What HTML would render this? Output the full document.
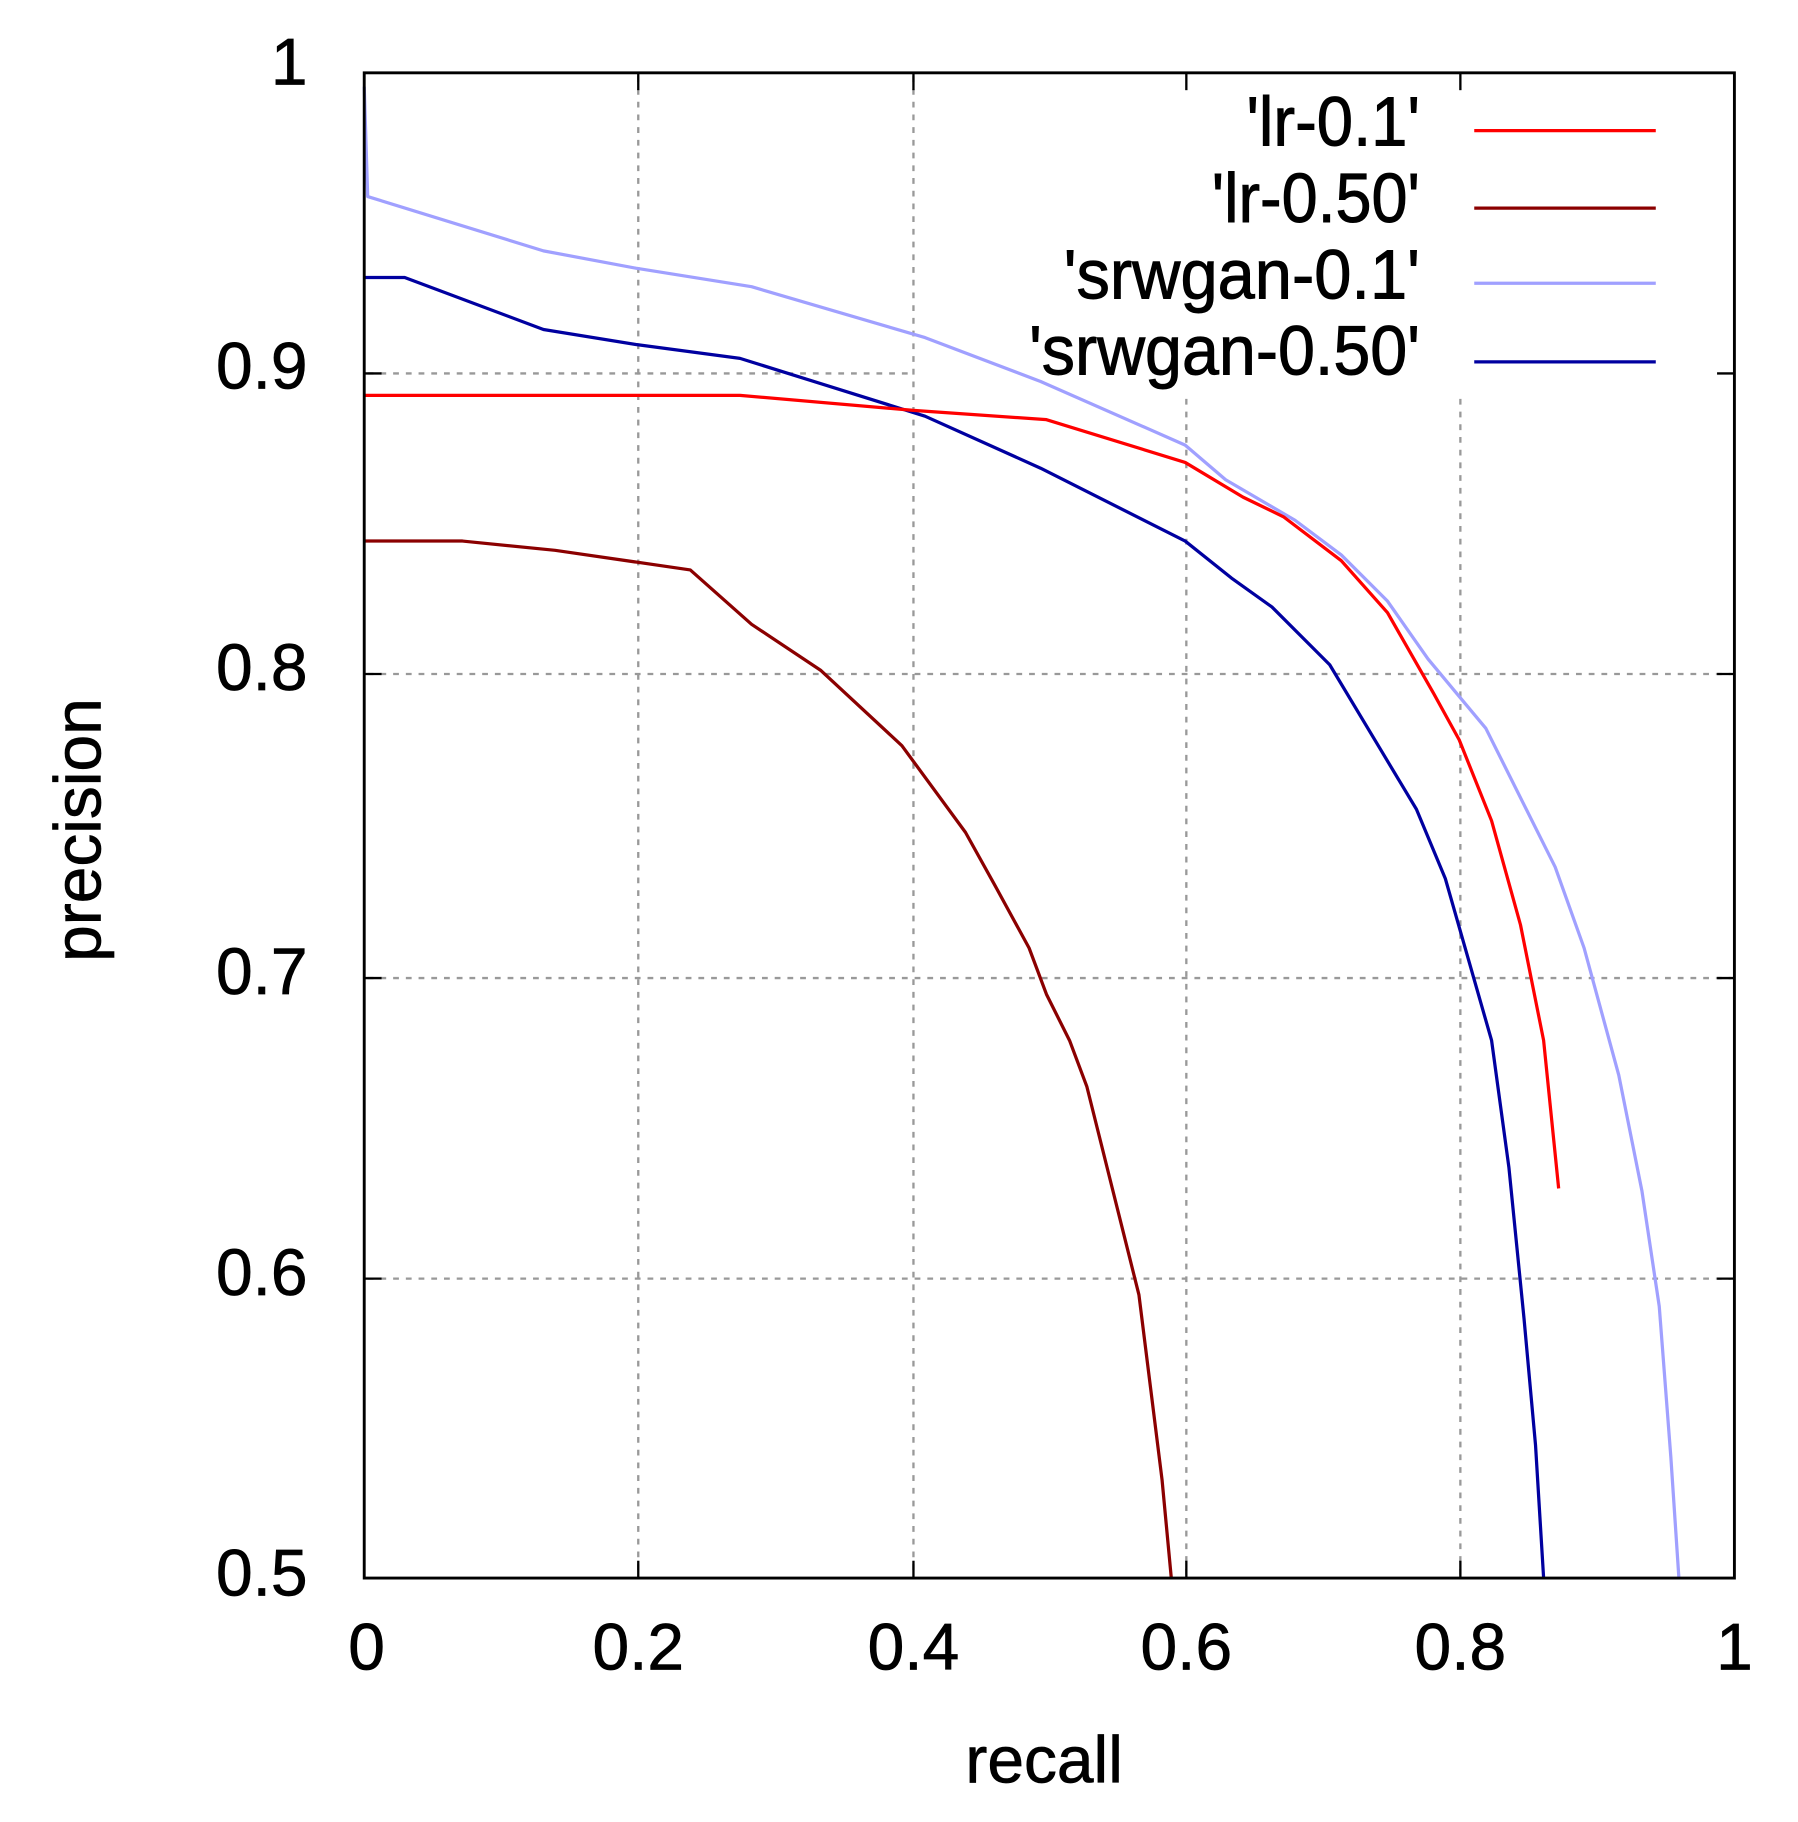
<!DOCTYPE html>
<html><head><style>html,body{margin:0;padding:0;background:#fff}svg{display:block}</style></head>
<body>
<svg width="1798" height="1822" viewBox="0 0 1555 1576" preserveAspectRatio="none" xmlns="http://www.w3.org/2000/svg" font-family="Liberation Sans, sans-serif">
<rect width="1555" height="1576" fill="#fff"/>
<g stroke="#999" stroke-width="2" stroke-dasharray="5,6" fill="none">
<line x1="552" y1="66" x2="552" y2="1362"/>
<line x1="790" y1="66" x2="790" y2="1362"/>
<line x1="1026" y1="345" x2="1026" y2="1362"/>
<line x1="1263" y1="345" x2="1263" y2="1362"/>
<line x1="318" y1="323" x2="790" y2="323"/>
<line x1="318" y1="583" x2="1497" y2="583"/>
<line x1="318" y1="846" x2="1497" y2="846"/>
<line x1="318" y1="1106" x2="1497" y2="1106"/>
</g>
<g stroke="#000" stroke-width="2">
<line x1="552" y1="63" x2="552" y2="78"/><line x1="790" y1="63" x2="790" y2="78"/><line x1="1026" y1="63" x2="1026" y2="78"/><line x1="1263" y1="63" x2="1263" y2="78"/>
<line x1="552" y1="1365" x2="552" y2="1350"/><line x1="790" y1="1365" x2="790" y2="1350"/><line x1="1026" y1="1365" x2="1026" y2="1350"/><line x1="1263" y1="1365" x2="1263" y2="1350"/>
<line x1="315" y1="323" x2="330" y2="323"/><line x1="315" y1="583" x2="330" y2="583"/><line x1="315" y1="846" x2="330" y2="846"/><line x1="315" y1="1106" x2="330" y2="1106"/>
<line x1="1500" y1="323" x2="1485" y2="323"/><line x1="1500" y1="583" x2="1485" y2="583"/><line x1="1500" y1="846" x2="1485" y2="846"/><line x1="1500" y1="1106" x2="1485" y2="1106"/>
</g>
<g fill="none" stroke-width="2.8" stroke-linejoin="round">
<polyline stroke="#a0a0ff" points="315,75 318,170 470,217 550,232 650,248 800,292 900,330 1025,385 1060,415 1120,450 1160,480 1200,520 1235,570 1260,600 1285,630 1300,660 1320,700 1345,750 1370,820 1400,930 1420,1030 1435,1130 1445,1260 1452,1365"/>
<polyline stroke="#0000a0" points="315,240 350,240 470,285 550,298 640,310 800,360 900,405 1025,468 1065,500 1100,525 1150,575 1195,650 1225,700 1250,760 1270,830 1290,900 1305,1010 1318,1140 1328,1250 1335,1365"/>
<polyline stroke="#ff0000" points="315,342 640,342 790,355 905,363 1025,400 1075,430 1110,447 1160,485 1200,530 1240,600 1262,640 1290,710 1315,800 1335,900 1348,1028"/>
<polyline stroke="#8b0000" points="315,468 400,468 480,476 597,493 650,540 710,580 780,645 835,720 860,765 890,820 905,860 925,900 940,940 960,1020 975,1080 985,1120 995,1200 1005,1280 1013,1365"/>
</g>
<rect x="315" y="63" width="1185" height="1302" fill="none" stroke="#000" stroke-width="2.5"/>
<g font-size="60" text-anchor="end" fill="#000" stroke="#000" stroke-width="0.8">
<text x="1228" y="126" textLength="150" lengthAdjust="spacingAndGlyphs">'lr-0.1'</text>
<text x="1228" y="192" textLength="180" lengthAdjust="spacingAndGlyphs">'lr-0.50'</text>
<text x="1228" y="258" textLength="308" lengthAdjust="spacingAndGlyphs">'srwgan-0.1'</text>
<text x="1228" y="324" textLength="338" lengthAdjust="spacingAndGlyphs">'srwgan-0.50'</text>
</g>
<g stroke-width="2.8">
<line x1="1275" y1="113" x2="1432" y2="113" stroke="#ff0000"/>
<line x1="1275" y1="180" x2="1432" y2="180" stroke="#8b0000"/>
<line x1="1275" y1="245" x2="1432" y2="245" stroke="#a0a0ff"/>
<line x1="1275" y1="313" x2="1432" y2="313" stroke="#0000a0"/>
</g>
<g font-size="57" text-anchor="end" fill="#000" stroke="#000" stroke-width="0.6">
<text x="266" y="73">1</text>
<text x="266" y="336">0.9</text>
<text x="266" y="597">0.8</text>
<text x="266" y="860">0.7</text>
<text x="266" y="1120">0.6</text>
<text x="266" y="1380">0.5</text>
</g>
<g font-size="57" text-anchor="middle" fill="#000" stroke="#000" stroke-width="0.6">
<text x="317" y="1444">0</text>
<text x="552" y="1444">0.2</text>
<text x="790" y="1444">0.4</text>
<text x="1026" y="1444">0.6</text>
<text x="1263" y="1444">0.8</text>
<text x="1500" y="1444">1</text>
<text x="903" y="1542">recall</text>
<text transform="translate(87,718) rotate(-90)">precision</text>
</g>
</svg>
</body></html>
